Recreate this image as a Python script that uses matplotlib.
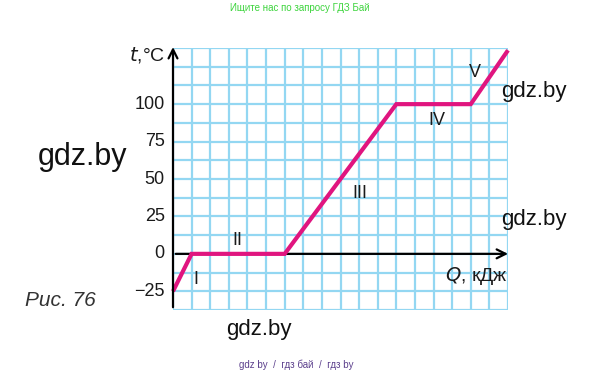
import matplotlib
matplotlib.use("Agg")
import matplotlib.pyplot as plt
import numpy as np

plt.rcParams['font.family'] = ['Liberation Sans', 'DejaVu Sans']

# Data (Q in grid units, t in °C)
q_values = [0, 1, 6, 12, 16, 18]
t_values = [-25, 0, 0, 100, 100, 136]
y_ticks = [-25, 0, 25, 50, 75, 100]
y_tick_labels = ['\u221225', '0', '25', '50', '75', '100']
stage_labels = ['I', 'II', 'III', 'IV', 'V']
stage_pos = [(1.25, -17), (3.45, 9), (10.05, 40), (14.2, 89), (16.2, 121)]

W, H = 594, 375
fig = plt.figure(figsize=(W / 100, H / 100), dpi=100)
ax = fig.add_axes([173 / W, (H - 310) / H, 335 / W, (310 - 48) / H])
ax.set_xlim(0, 18)
ax.set_ylim(-37.5, 137.5)
ax.set_xticks(np.arange(0, 18.01, 1))
ax.set_yticks(np.arange(-37.5, 137.6, 12.5))
ax.grid(True, color='#93d7f2', linewidth=1.6)
ax.tick_params(length=0, labelbottom=False, labelleft=False)
for s in ax.spines.values():
    s.set_visible(False)
ax.set_axisbelow(True)

# main line
ax.plot(q_values, t_values, color='#e0157f', linewidth=3.0, solid_capstyle='butt',
        solid_joinstyle='miter', zorder=4, clip_on=False)

# axes arrows
ax.annotate('', xy=(0, 140), xytext=(0, -37.5),
            arrowprops=dict(arrowstyle='->', color='black', lw=1.6, mutation_scale=16),
            annotation_clip=False, zorder=5)
ax.annotate('', xy=(18.15, 0), xytext=(0, 0),
            arrowprops=dict(arrowstyle='->', color='black', lw=1.6, mutation_scale=16),
            annotation_clip=False, zorder=3)

# tick labels
for v, lab in zip(y_ticks, y_tick_labels):
    ax.text(-0.45, v, lab, ha='right', va='center', fontsize=13, color='#1a1a1a')

# stage labels
for lab, (x, y) in zip(stage_labels, stage_pos):
    ax.text(x, y, lab, ha='center', va='center', fontsize=13, color='#1a1a1a')

# axis labels
fig.text(165 / W, 1 - 55 / H, r'$\mathit{t}$,°C', ha='right', va='center', fontsize=14, color='#1a1a1a')
ax.text(18.0, -14.5, r'$\mathit{Q}$, кДж', ha='right', va='center', fontsize=14, color='#1a1a1a')

# caption and watermarks
fig.text(25 / W, 1 - 301 / H, 'Рис. 76', ha='left', va='center', fontsize=15,
         style='italic', color='#333333')
fig.text(38 / W, 1 - 157 / H, 'gdz.by', ha='left', va='center', fontsize=22, color='#111111')
fig.text(534 / W, 1 - 91 / H, 'gdz.by', ha='center', va='center', fontsize=16, color='#111111')
fig.text(534 / W, 1 - 220 / H, 'gdz.by', ha='center', va='center', fontsize=16, color='#111111')
fig.text(259 / W, 1 - 329 / H, 'gdz.by', ha='center', va='center', fontsize=16, color='#111111')
fig.text(300 / W, 1 - 8 / H, 'Ищите нас по запросу ГДЗ Бай', ha='center', va='center',
         fontsize=7, color='#3dd43d')
fig.text(296 / W, 1 - 365 / H, 'gdz by  /  гдз бай  /  гдз by', ha='center', va='center',
         fontsize=7, color='#5b3f8c')

fig.savefig('out.png', dpi=100)
